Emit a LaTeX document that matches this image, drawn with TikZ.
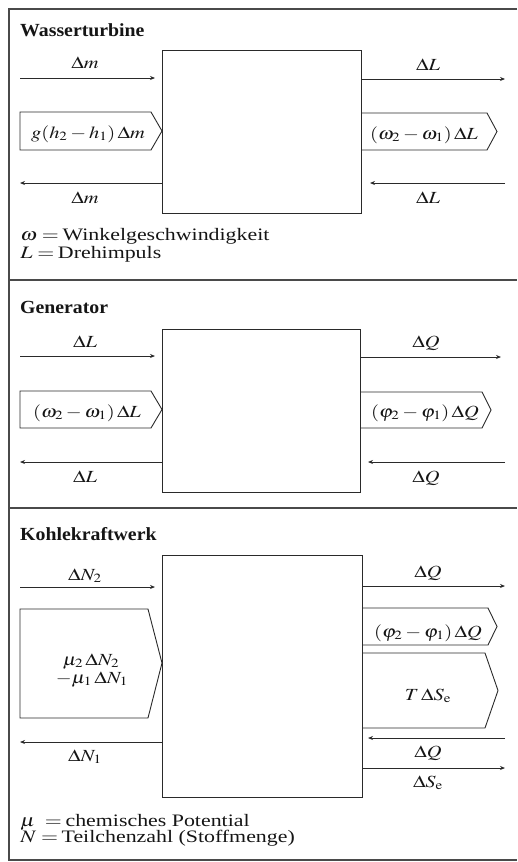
\documentclass[tikz,border=0pt]{standalone}
\usepackage{mathptmx}
\usepackage[no-math]{fontspec}
\setmainfont{Liberation Serif}
\usetikzlibrary{arrows.meta}
\definecolor{lc}{HTML}{2A2A2A}
\definecolor{tc}{HTML}{151515}
\tikzset{
 ln/.style={line width=0.9pt, draw=lc},
 frm/.style={line width=1.1pt, draw=lc!85},
 arr/.style={ln, -{Stealth[length=5pt,width=4pt]}},
 boxn/.style={ln, anchor=north west, inner sep=0, outer sep=0},
 lab/.style={anchor=base, inner sep=0, xscale=1.2, text=tc, font=\fontsize{17}{17}\selectfont},
 ttl/.style={anchor=base west, inner sep=0, xscale=1.07, text=tc, font=\fontsize{18.5}{18.5}\selectfont\bfseries},
 leg/.style={anchor=base west, inner sep=0, xscale=1.25, text=tc, font=\fontsize{17.5}{17.5}\selectfont},
}
\begin{document}
\begin{tikzpicture}[x=1pt,y=-1pt]
\useasboundingbox (0,0) rectangle (517,862);
% frame
\draw[frm] (517,9) -- (9,9) -- (9,860) -- (517,860);
\draw[frm] (9,280) -- (517,280);
\draw[frm] (9,508) -- (517,508);

% ---------- Panel 1 ----------
\node[ttl] (t1) at (20,36) {Wasserturbine};
\node[boxn, minimum width=199pt, minimum height=163pt, draw] (B1) at (162,50) {};
\coordinate (a1s) at (20,78);
\draw[arr] (a1s) -- (155,78);
\node[lab] (a1l) at (85,68) {$\Delta m$};
\draw[ln] (20,112) -- (151,112) -- (B1.west |- 0,131) -- (151,150) -- (20,150) -- cycle;
\node[lab] (p1l) at (88,138) {$g(h_2-h_1)\,\Delta m$};
\coordinate (a2e) at (20,183);
\draw[arr] (B1.west |- a2e) -- (a2e);
\node[lab] (a2l) at (85,203) {$\Delta m$};
\coordinate (a3e) at (505,79);
\draw[arr] (B1.east |- a3e) -- (a3e);
\node[lab] (a3l) at (428,70) {$\Delta L$};
\draw[ln] (B1.east |- 0,113) -- (487,113) -- (497,131.5) -- (487,150) -- (B1.east |- 0,150);
\node[lab] (p2l) at (424,139) {$(\omega_2-\omega_1)\,\Delta L$};
\coordinate (a4s) at (505,183);
\draw[arr] (a4s) -- (370,183);
\node[lab] (a4l) at (428,203) {$\Delta L$};
\node[leg] (g1) at (20,240) {$\omega=$\,Winkelgeschwindigkeit};
\node[leg] (g2) at (20,258) {$L=$\,Drehimpuls};

% ---------- Panel 2 ----------
\node[ttl] (t2) at (20,313) {Generator};
\node[boxn, minimum width=198pt, minimum height=163pt, draw] (B2) at (162,329) {};
\coordinate (b1s) at (20,356);
\draw[arr] (b1s) -- (155,356);
\node[lab] (b1l) at (85,347) {$\Delta L$};
\draw[ln] (20,391) -- (151,391) -- (B2.west |- 0,409.5) -- (151,428) -- (20,428) -- cycle;
\node[lab] (q1l) at (87,417) {$(\omega_2-\omega_1)\,\Delta L$};
\coordinate (b2e) at (20,462);
\draw[arr] (B2.west |- b2e) -- (b2e);
\node[lab] (b2l) at (85,482) {$\Delta L$};
\coordinate (b3e) at (501,357);
\draw[arr] (B2.east |- b3e) -- (b3e);
\node[lab] (b3l) at (426,347) {$\Delta Q$};
\draw[ln] (B2.east |- 0,392) -- (482,392) -- (491,410) -- (482,428) -- (B2.east |- 0,428);
\node[lab] (q2l) at (425,417) {$(\varphi_2-\varphi_1)\,\Delta Q$};
\coordinate (b4s) at (505,462);
\draw[arr] (b4s) -- (368,462);
\node[lab] (b4l) at (426,482) {$\Delta Q$};

% ---------- Panel 3 ----------
\node[ttl] (t3) at (20,540) {Kohlekraftwerk};
\node[boxn, minimum width=200pt, minimum height=242pt, draw] (B3) at (162,555) {};
\coordinate (c1s) at (20,587);
\draw[arr] (c1s) -- (155,587);
\node[lab] (c1l) at (85,580) {$\Delta N_2$};
\draw[ln] (20,609) -- (148,609) -- (B3.west |- 0,663) -- (148,718) -- (20,718) -- cycle;
\node[lab] (r1a) at (91,665) {$\mu_2\,\Delta N_2$};
\node[lab] (r1b) at (92,683) {$-\mu_1\,\Delta N_1$};
\coordinate (c2e) at (20,742);
\draw[arr] (B3.west |- c2e) -- (c2e);
\node[lab] (c2l) at (85,761) {$\Delta N_1$};
\coordinate (c3e) at (505,586);
\draw[arr] (B3.east |- c3e) -- (c3e);
\node[lab] (c3l) at (428,577) {$\Delta Q$};
\draw[ln] (B3.east |- 0,608) -- (488,608) -- (497,626.5) -- (488,645) -- (B3.east |- 0,645);
\node[lab] (r2l) at (428,637) {$(\varphi_2-\varphi_1)\,\Delta Q$};
\draw[ln] (B3.east |- 0,653) -- (485,653) -- (498,690.5) -- (485,728) -- (B3.east |- 0,728);
\node[lab] (r3l) at (428,700) {$T\,\Delta S_{\mathrm{e}}$};
\coordinate (c4s) at (505,738);
\draw[arr] (c4s) -- (368,738);
\node[lab] (c4l) at (428,757) {$\Delta Q$};
\coordinate (c5e) at (505,768);
\draw[arr] (B3.east |- c5e) -- (c5e);
\node[lab] (c5l) at (428,787) {$\Delta S_{\mathrm{e}}$};
\node[leg] (h1) at (20,826) {$\mu\;=$\,chemisches Potential};
\node[leg] (h2) at (20,842) {$N=$\,Teilchenzahl (Stoffmenge)};
\end{tikzpicture}
\end{document}
